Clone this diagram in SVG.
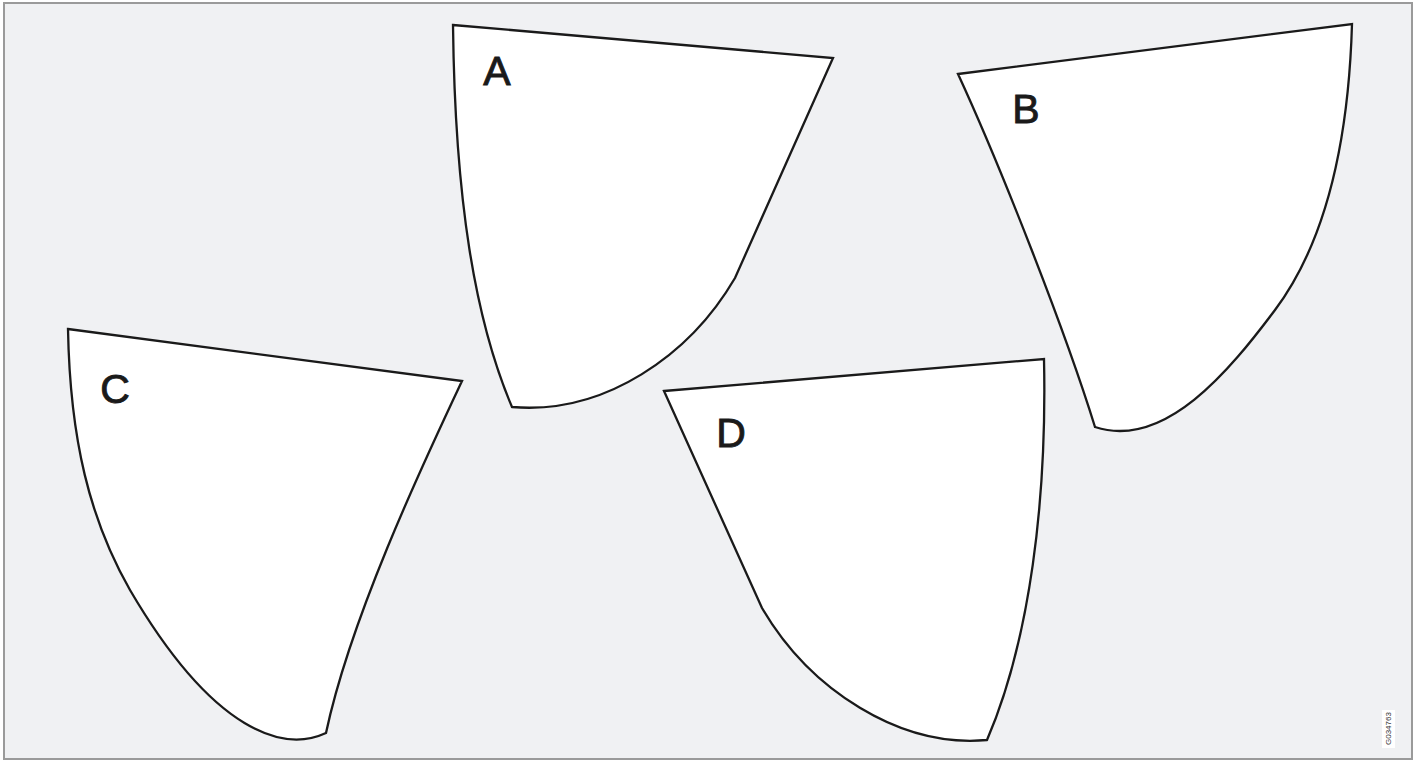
<svg xmlns="http://www.w3.org/2000/svg" width="1414" height="762" viewBox="0 0 1414 762">
<style>
.bg{fill:#f0f1f3;stroke:#9a9a9a;stroke-width:2}
.shape{fill:#ffffff;stroke:#1a1a1a;stroke-width:2.3;stroke-linejoin:miter}
.lbl{font-family:"Liberation Sans",Arial,sans-serif;font-size:41px;fill:#1a1a1a;stroke:#1a1a1a;stroke-width:0.9;text-anchor:middle}
.code{font-family:"Liberation Sans",Arial,sans-serif;font-size:8px;fill:#333}
</style>
<rect class="bg" x="4" y="3" width="1408" height="756"/>
<g id="A">
<path class="shape" d="M453,25 L833,58 L735,278 C690,355 605,415 512,407 C475,320 455,200 453,25 Z"/>
<text class="lbl" x="497" y="85">A</text>
</g>
<g id="B">
<path class="shape" d="M958,74 L1352,24 C1348,160 1320,250 1275,310 C1230,370 1165,450 1095,427 C1065,330 1000,165 958,74 Z"/>
<text class="lbl" x="1026" y="123">B</text>
</g>
<g id="C">
<path class="shape" d="M68,329 L462,381 C420,470 350,620 326,733 C285,752 215,735 130,590 C90,520 70,440 68,329 Z"/>
<text class="lbl" x="115" y="403">C</text>
</g>
<g id="D">
<path class="shape" d="M664,391 L1044,359 C1047,500 1030,640 987,740 C900,748 810,690 762,608 L664,391 Z"/>
<text class="lbl" x="731" y="447">D</text>
</g>
<g id="code">
<rect x="1382" y="710" width="13" height="38" fill="#ffffff"/>
<text class="code" transform="translate(1391,745) rotate(-90)">G034763</text>
</g>
</svg>
